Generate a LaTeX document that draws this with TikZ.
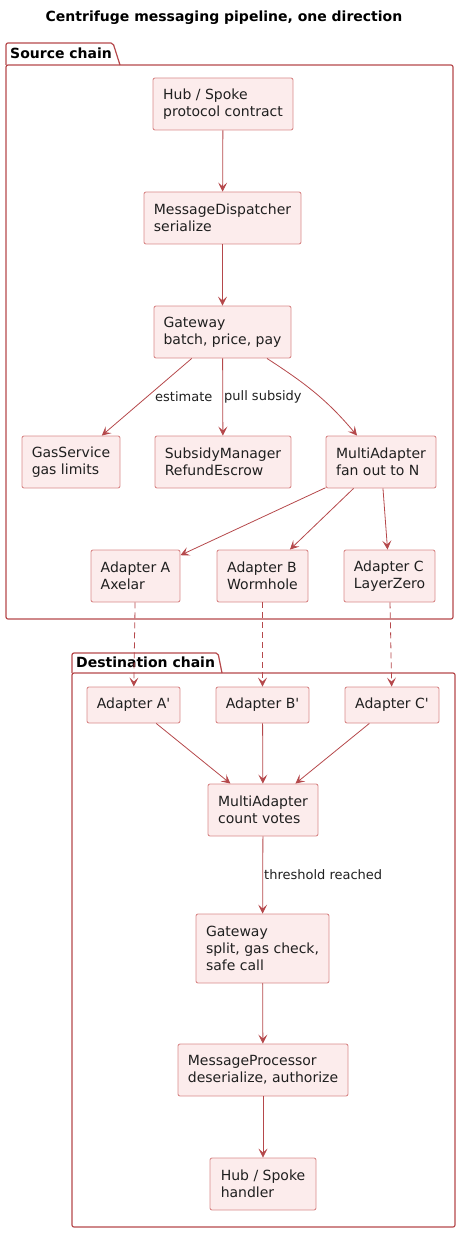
\documentclass[tikz,border=0pt]{standalone}
\usepackage{fontspec}
\setmainfont{DejaVu Sans}
\newfontfamily\plainfont{DejaVu Sans}
\usetikzlibrary{arrows.meta}
\definecolor{boxfill}{HTML}{FCECEC}
\definecolor{boxline}{HTML}{D98A8A}
\definecolor{pkgline}{HTML}{B5484B}
\definecolor{ink}{HTML}{1F1F1F}
\newcommand{\prm}{{\plainfont '}}
\tikzset{
  comp/.style={draw=boxline, line width=0.9pt, fill=boxfill, rounded corners=2pt, align=left, text=ink,
    font=\fontsize{14}{17}\selectfont, inner sep=0pt, minimum height=52pt},
  flow/.style={draw=pkgline, line width=0.8pt, -{Stealth[length=9pt,width=9pt,inset=4pt]}},
  hop/.style={flow, dash pattern=on 6pt off 4pt},
  elabel/.style={font=\fontsize{13}{15}\selectfont, text=ink, inner sep=0pt},
  pkg/.style={draw=pkgline, line width=1.2pt, rounded corners=2pt},
  pkgname/.style={font=\bfseries\fontsize{14}{16}\selectfont, anchor=west, inner sep=0pt}
}
\begin{document}
\begin{tikzpicture}[x=1pt,y=1pt]
  \useasboundingbox (0,0) rectangle (461,-1233);
  \node[font=\bfseries\fontsize{14}{16}\selectfont] (title) at (224,-18)
    {Centrifuge messaging pipeline, one direction};
  \begin{scope}
    \draw[pkg] (6,-65) -- (6,-43) -- (113,-43) -- (120,-65);
    \draw[pkg] (6,-65) rectangle (453,-619);
    \node[pkgname] (srcname) at (10,-53) {Source chain};
    \node[comp, minimum width=140pt] (hub) at (223,-104) {Hub / Spoke\\protocol contract};
    \node[comp, minimum width=157pt] (disp) at (222.5,-218) {MessageDispatcher\\serialize};
    \node[comp, minimum width=137pt] (gw) at (222.5,-332) {Gateway\\batch, price, pay};
    \node[comp, minimum width=98pt] (gas) at (71,-462) {GasService\\gas limits};
    \node[comp, minimum width=136pt] (subsidy) at (223,-462) {SubsidyManager\\RefundEscrow};
    \node[comp, minimum width=110pt] (multi) at (381,-462) {MultiAdapter\\fan out to N};
    \node[comp, minimum width=89pt] (adA) at (135.5,-576) {Adapter A\\Axelar};
    \node[comp, minimum width=91pt] (adB) at (262.5,-576) {Adapter B\\Wormhole};
    \node[comp, minimum width=91pt] (adC) at (389.5,-576) {Adapter C\\LayerZero};
    \draw[flow] (hub) -- (disp);
    \draw[flow] (disp) -- (gw);
    \draw[flow] (gw) -- node[elabel, anchor=east, xshift=66pt] {estimate} (gas);
    \draw[flow] (gw) -- node[elabel, anchor=west, xshift=1pt] {pull subsidy} (subsidy);
    \draw[flow] ([xshift=44.5pt]gw.south) to[out=-33,in=130] ([xshift=-24pt]multi.north);
    \draw[flow] (multi) -- (adA);
    \draw[flow] (multi) -- (adB);
    \draw[flow] (multi) -- (adC);
  \end{scope}
  \begin{scope}
    \draw[pkg] (72,-673) -- (72,-653) -- (218,-653) -- (222,-673);
    \draw[pkg] (72,-673) rectangle (455,-1227);
    \node[pkgname] (dstname) at (76,-662) {Destination chain};
    \node[comp, minimum width=93pt, minimum height=36pt] (dA) at (133.5,-705) {Adapter A\prm};
    \node[comp, minimum width=93pt, minimum height=36pt] (dB) at (262.5,-705) {Adapter B\prm};
    \node[comp, minimum width=94pt, minimum height=36pt] (dC) at (392,-705) {Adapter C\prm};
    \node[comp, minimum width=110pt] (dmulti) at (263,-810) {MultiAdapter\\count votes};
    \node[comp, minimum width=133pt, minimum height=69pt] (dgw) at (262.5,-948.5)
      {Gateway\\split, gas check,\\safe call};
    \node[comp, minimum width=170pt] (proc) at (263,-1070) {MessageProcessor\\deserialize, authorize};
    \node[comp, minimum width=106pt] (handler) at (263,-1184) {Hub / Spoke\\handler};
    \draw[flow] (dA) -- (dmulti);
    \draw[flow] (dB) -- (dmulti);
    \draw[flow] (dC) -- (dmulti);
    \draw[flow] (dmulti) -- node[elabel, anchor=west, xshift=1pt] {threshold reached} (dgw);
    \draw[flow] (dgw) -- (proc);
    \draw[flow] (proc) -- (handler);
  \end{scope}
  \draw[hop] (adA) -- (dA);
  \draw[hop] (adB) -- (dB);
  \draw[hop] (adC) -- (dC);
\end{tikzpicture}
\end{document}
